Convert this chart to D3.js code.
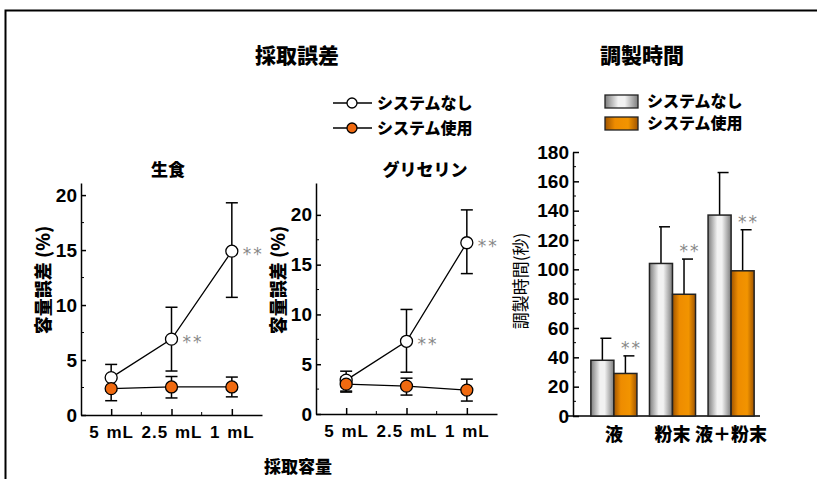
<!DOCTYPE html>
<html>
<head>
<meta charset="utf-8">
<script src="https://cdn.jsdelivr.net/npm/d3@7"></script>
<style>
  body { margin: 0; background: #fff; }
  svg { display: block; }
  .jp { font-family: "Noto Sans CJK JP", sans-serif; font-weight: 900; }
  .num { font-family: "Liberation Sans", Arial, sans-serif; font-weight: bold; }
</style>
</head>
<body>
<div id="chart"></div>
<script>
// --- data ---
const volumes = ["5 mL", "2.5 mL", "1 mL"];
const seriesNames = ["システムなし", "システム使用"];

// 生食 (saline): mean, lower, upper
const salineNone = [3.4, 6.9, 14.9];
const salineNoneLo = [2.2, 4.0, 10.7];
const salineNoneHi = [4.6, 9.8, 19.3];
const salineUse = [2.4, 2.55, 2.55];
const salineUseLo = [1.3, 1.55, 1.65];
const salineUseHi = [3.3, 3.5, 3.45];

// グリセリン
const glycNone = [3.4, 7.3, 17.2];
const glycNoneLo = [2.2, 4.2, 14.1];
const glycNoneHi = [4.3, 10.5, 20.5];
const glycUse = [3.0, 2.8, 2.4];
const glycUseLo = [2.3, 1.9, 1.3];
const glycUseHi = [3.7, 3.6, 3.5];

const errTicks = [0, 5, 10, 15, 20];

// 調製時間 (sec)
const prepGroups = ["液", "粉末", "液＋粉末"];
const prepNone = [38, 104, 137];
const prepNoneErr = [53, 129, 166];
const prepUse = [29, 83, 99];
const prepUseErr = [41, 107, 127];
const timeTicks = [0, 20, 40, 60, 80, 100, 120, 140, 160, 180];

const W = 817, H = 479;
const svg = d3.select("#chart").append("svg")
    .attr("width", W).attr("height", H);

// outer frame (top and left edges visible)
svg.append("path")
    .attr("d", `M5.5,${H} V10.5 H${W}`)
    .attr("fill", "none").attr("stroke", "#000").attr("stroke-width", 2);

const defs = svg.append("defs");
function hGrad(id, stops) {
  const g = defs.append("linearGradient").attr("id", id)
      .attr("x1", "0%").attr("x2", "100%").attr("y1", "0%").attr("y2", "0%");
  stops.forEach(s => g.append("stop").attr("offset", s[0]).attr("stop-color", s[1]));
}
hGrad("gGrey", [["0%", "#7c7c7c"], ["40%", "#f2f2f2"], ["60%", "#f2f2f2"], ["100%", "#7c7c7c"]]);
hGrad("gOrange", [["0%", "#a05400"], ["30%", "#ee8c00"], ["70%", "#f29400"], ["100%", "#a05400"]]);

const orange = "#f06a10";
const starColor = "#888";

// titles
svg.append("text").attr("class", "jp").attr("x", 297).attr("y", 63)
    .attr("text-anchor", "middle").attr("font-size", 21).text("採取誤差");
svg.append("text").attr("class", "jp").attr("x", 642).attr("y", 63)
    .attr("text-anchor", "middle").attr("font-size", 21).text("調製時間");
svg.append("text").attr("class", "jp").attr("x", 298).attr("y", 473)
    .attr("text-anchor", "middle").attr("font-size", 17).text("採取容量");

// line legend
seriesNames.forEach((name, i) => {
  const ly = 103 + i * 25;
  const lg = svg.append("g");
  lg.append("line").attr("x1", 333).attr("x2", 372).attr("y1", ly).attr("y2", ly)
      .attr("stroke", "#000").attr("stroke-width", 1.3);
  lg.append("circle").attr("cx", 352).attr("cy", ly).attr("r", 5)
      .attr("fill", i === 0 ? "#fff" : orange).attr("stroke", "#000").attr("stroke-width", 1.3);
  lg.append("text").attr("class", "jp").attr("x", 377).attr("y", ly + 6)
      .attr("font-size", 16).text(name);
});

// bar legend
seriesNames.forEach((name, i) => {
  const ly = 95 + i * 22;
  svg.append("rect").attr("x", 605).attr("y", ly).attr("width", 33).attr("height", 13)
      .attr("fill", i === 0 ? "url(#gGrey)" : "url(#gOrange)")
      .attr("stroke", "#222").attr("stroke-width", 1.3);
  svg.append("text").attr("class", "jp").attr("x", 647).attr("y", ly + 12)
      .attr("font-size", 16).text(name);
});

function linePanel(opt) {
  const g = svg.append("g");
  const x = d3.scalePoint().domain(volumes).range(opt.xr).padding(0.5);
  const y = d3.scaleLinear().domain(opt.yd).range(opt.yr);

  const ya = g.append("g").attr("transform", `translate(${opt.xr[0]},0)`)
      .call(d3.axisLeft(y).tickValues(errTicks).tickSizeInner(-5).tickSizeOuter(0).tickPadding(4));
  ya.selectAll("text").attr("class", "num").attr("font-size", 19).attr("fill", "#000");
  // minor ticks
  g.selectAll(".mny").data([2.5, 7.5, 12.5, 17.5]).join("line")
      .attr("x1", opt.xr[0]).attr("x2", opt.xr[0] + 3)
      .attr("y1", d => y(d)).attr("y2", d => y(d)).attr("stroke", "#000");

  const xa = g.append("g").attr("transform", `translate(0,${opt.yr[0]})`)
      .call(d3.axisBottom(x).tickSizeInner(-6).tickSizeOuter(0).tickPadding(11));
  xa.selectAll("text").attr("class", "num").attr("font-size", 17).attr("fill", "#000")
      .attr("letter-spacing", "1px").attr("word-spacing", "1px");
  g.selectAll(".mnx").data([0, 1]).join("line")
      .attr("x1", d => (x(volumes[d]) + x(volumes[d + 1])) / 2)
      .attr("x2", d => (x(volumes[d]) + x(volumes[d + 1])) / 2)
      .attr("y1", opt.yr[0]).attr("y2", opt.yr[0] - 3).attr("stroke", "#000");
  g.selectAll(".domain, .tick line").attr("stroke", "#000").attr("stroke-width", 1.5);

  g.append("text").attr("class", "jp").attr("font-size", 17)
      .attr("text-anchor", "middle").attr("x", opt.titleX).attr("y", 176).text(opt.title);
  g.append("text").attr("class", "jp").attr("font-size", 18)
      .attr("text-anchor", "middle")
      .attr("transform", `translate(${opt.labX},280) rotate(-90)`).text("容量誤差 (%)");

  const line = d3.line().x((d, i) => x(volumes[i])).y(d => y(d));
  const series = [
    {v: opt.none, lo: opt.noneLo, hi: opt.noneHi, fill: "#fff"},
    {v: opt.use, lo: opt.useLo, hi: opt.useHi, fill: orange}
  ];
  series.forEach(s => {
    volumes.forEach((c, i) => {
      const cx = x(c);
      g.append("line").attr("x1", cx).attr("x2", cx)
          .attr("y1", y(s.lo[i])).attr("y2", y(s.hi[i])).attr("stroke", "#000").attr("stroke-width", 1.5);
      [s.lo[i], s.hi[i]].forEach(v => g.append("line")
          .attr("x1", cx - 6).attr("x2", cx + 6).attr("y1", y(v)).attr("y2", y(v))
          .attr("stroke", "#000").attr("stroke-width", 1.5));
    });
  });
  series.slice().reverse().forEach(s => {
    g.append("path").datum(s.v).attr("d", line)
        .attr("fill", "none").attr("stroke", "#000").attr("stroke-width", 1.3);
  });
  series.forEach(s => {
    g.selectAll(null).data(s.v).join("circle")
        .attr("cx", (d, i) => x(volumes[i])).attr("cy", d => y(d)).attr("r", 6)
        .attr("fill", s.fill).attr("stroke", "#000").attr("stroke-width", 1.3);
  });
  // significance marks on 2.5 mL and 1 mL
  [1, 2].forEach(i => {
    g.append("text").attr("font-family", "DejaVu Sans, sans-serif").attr("font-size", 17)
        .attr("letter-spacing", "2px")
        .attr("fill", starColor).attr("x", x(volumes[i]) + 11).attr("y", y(opt.none[i]) + 9)
        .text("**");
  });
}

linePanel({
  xr: [81, 262], yd: [0, 21.1], yr: [415, 183], title: "生食", titleX: 168, labX: 50,
  none: salineNone, noneLo: salineNoneLo, noneHi: salineNoneHi,
  use: salineUse, useLo: salineUseLo, useHi: salineUseHi
});
linePanel({
  xr: [316, 497], yd: [0, 23.2], yr: [414, 183], title: "グリセリン", titleX: 425, labX: 285,
  none: glycNone, noneLo: glycNoneLo, noneHi: glycNoneHi,
  use: glycUse, useLo: glycUseLo, useHi: glycUseHi
});

// bar panel
const bg = svg.append("g");
const xb = d3.scaleBand().domain(prepGroups).range([585, 760]).paddingInner(0.214).paddingOuter(0.1);
const xs = d3.scaleBand().domain([0, 1]).range([0, xb.bandwidth()]);
const yb = d3.scaleLinear().domain([0, 180]).range([416, 152]);

const yba = bg.append("g").attr("transform", "translate(573,0)")
    .call(d3.axisLeft(yb).tickValues(timeTicks).tickSizeInner(-6).tickSizeOuter(0).tickPadding(4));
yba.selectAll("text").attr("class", "num").attr("font-size", 19).attr("fill", "#000");
bg.selectAll(".mnb").data(d3.range(10, 180, 20)).join("line")
    .attr("x1", 573).attr("x2", 576).attr("y1", d => yb(d)).attr("y2", d => yb(d)).attr("stroke", "#000");
const xba = bg.append("g").attr("transform", "translate(0,416)")
    .call(d3.axisBottom(xb).tickSize(0).tickPadding(12));
xba.select(".domain").remove();
xba.selectAll("text").attr("class", "jp").attr("font-size", 18).attr("fill", "#000");
bg.append("line").attr("x1", 566).attr("x2", 760).attr("y1", 416).attr("y2", 416)
    .attr("stroke", "#000").attr("stroke-width", 1.5);
bg.selectAll(".domain, .tick line").attr("stroke", "#000").attr("stroke-width", 1.5);

const barSets = [
  {v: prepNone, e: prepNoneErr, fill: "url(#gGrey)"},
  {v: prepUse, e: prepUseErr, fill: "url(#gOrange)"}
];
barSets.forEach((s, k) => {
  prepGroups.forEach((grp, i) => {
    const x0 = xb(grp) + xs(k), w = xs.bandwidth(), cx = x0 + w / 2;
    bg.append("line").attr("x1", cx).attr("x2", cx).attr("y1", yb(s.v[i])).attr("y2", yb(s.e[i]))
        .attr("stroke", "#000").attr("stroke-width", 1.5);
    bg.append("line").attr("x1", cx - 2).attr("x2", cx + 9).attr("y1", yb(s.e[i])).attr("y2", yb(s.e[i]))
        .attr("stroke", "#000").attr("stroke-width", 1.5);
    bg.append("rect").attr("x", x0).attr("y", yb(s.v[i])).attr("width", w)
        .attr("height", yb(0) - yb(s.v[i])).attr("fill", s.fill)
        .attr("stroke", "#222").attr("stroke-width", 1.5);
    if (k === 1) {
      bg.append("text").attr("font-family", "DejaVu Sans, sans-serif").attr("font-size", 17)
          .attr("letter-spacing", "2px")
          .attr("fill", starColor).attr("text-anchor", "middle")
          .attr("x", cx + 6).attr("y", yb(s.e[i]) - 2).text("**");
    }
  });
});

svg.append("text").attr("font-family", "Noto Sans CJK JP, sans-serif").attr("font-size", 17)
    .attr("text-anchor", "middle").attr("transform", "translate(527,281) rotate(-90)")
    .text("調製時間(秒)");
</script>
</body>
</html>
